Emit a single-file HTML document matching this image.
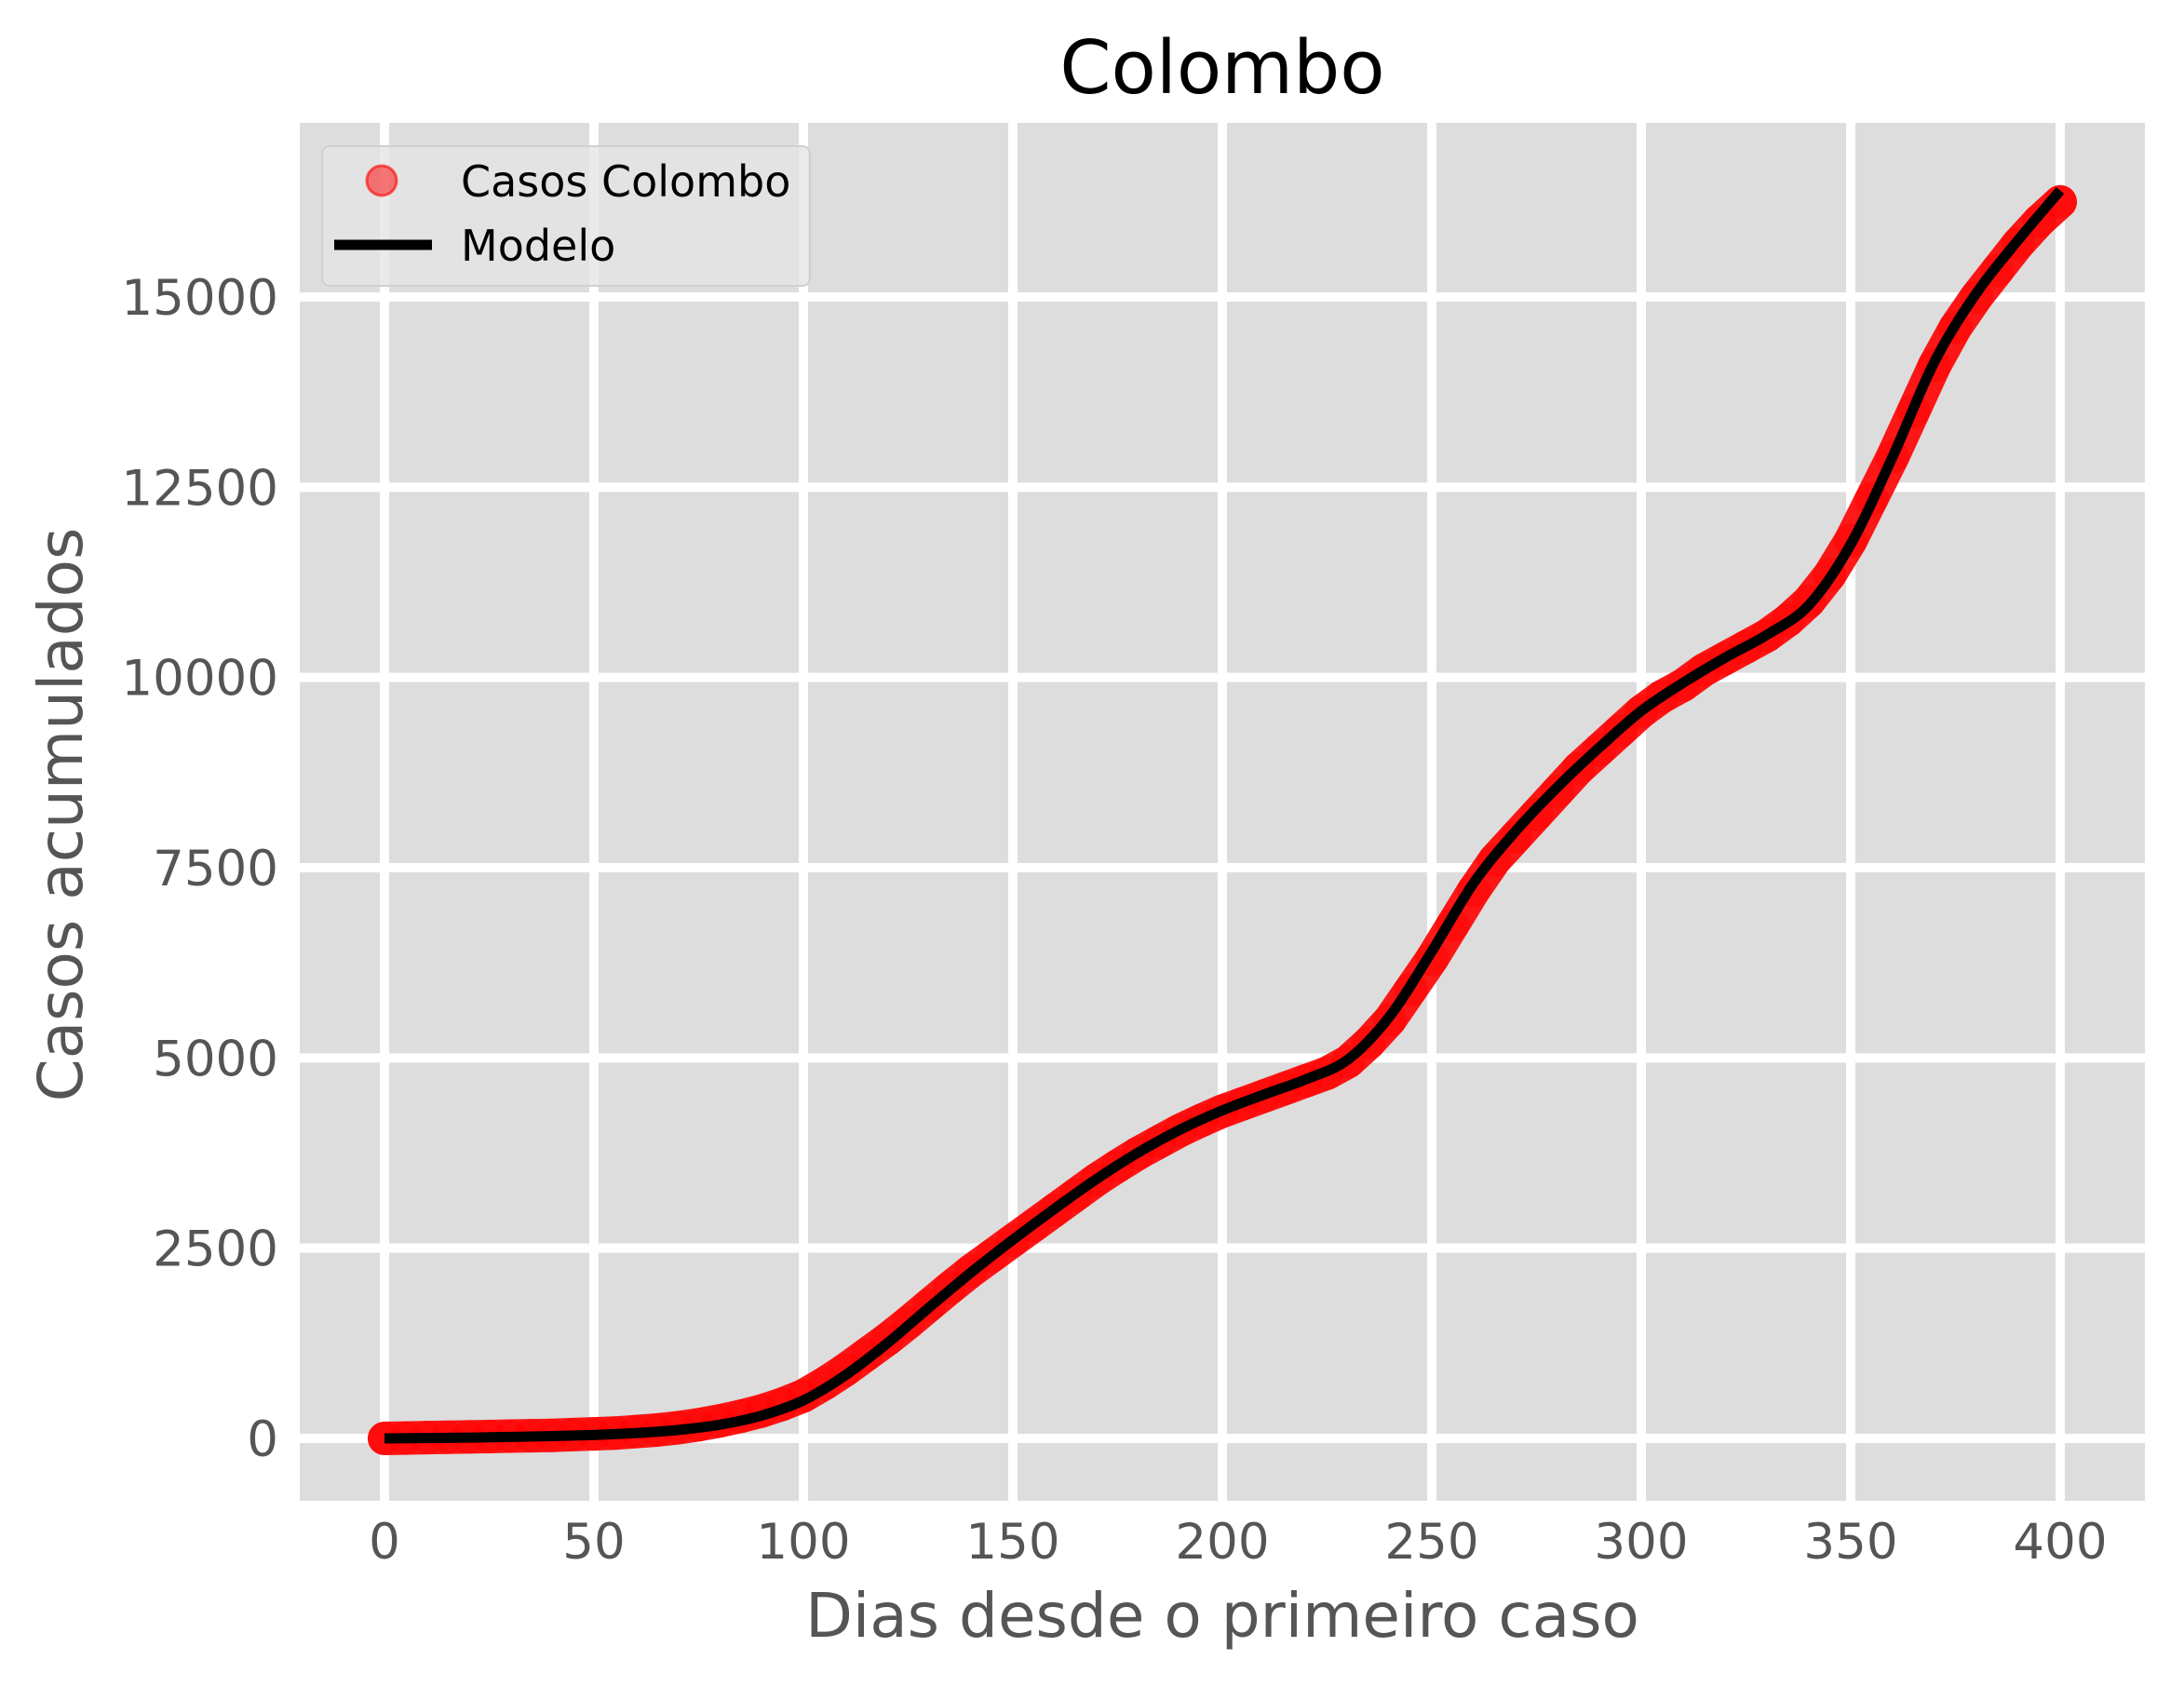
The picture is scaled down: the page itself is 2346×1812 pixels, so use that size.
<!DOCTYPE html>
<html><head><meta charset="utf-8"><style>
html,body{margin:0;padding:0;background:#fff;}
svg{display:block;font-family:"DejaVu Sans","Liberation Sans",sans-serif;}
</style></head><body>
<svg id="chart" width="2346" height="1812" viewBox="0 0 2346 1812" xmlns="http://www.w3.org/2000/svg">
<rect x="322" y="132" width="1982" height="1480" fill="#dddddd"/>
<g id="grid"></g>
<g id="series"></g>
<g id="ticks"></g>
<text x="1313" y="100" font-size="79" text-anchor="middle" fill="#000">Colombo</text>
<text x="1313" y="1758" font-size="66" text-anchor="middle" fill="#555">Dias desde o primeiro caso</text>
<text x="0" y="0" font-size="66" text-anchor="middle" fill="#555" transform="translate(88,875) rotate(-90)">Casos acumulados</text>
<g>
<rect x="346" y="157" width="524" height="150" rx="8" fill="#e5e5e5" fill-opacity="0.8" stroke="#d0d0d0" stroke-width="2"/>
<circle cx="410" cy="194" r="16" fill="#ff0000" fill-opacity="0.5" stroke="#ff0000" stroke-opacity="0.6" stroke-width="3"/>
<text x="495" y="211" font-size="46" fill="#000">Casos Colombo</text>
<line x1="359" y1="263" x2="464" y2="263" stroke="#000" stroke-width="11"/>
<text x="495" y="280" font-size="46" fill="#000">Modelo</text>
</g>
</svg>
<script>
const obsDays = [0,5,10,15,20,25,30,35,40,45,50,55,60,65,70,75,80,85,90,95,100,105,110,115,120,125,130,135,140,145,150,155,160,165,170,175,180,185,190,195,200,205,210,215,220,225,230,235,240,245,250,255,260,265,270,275,280,285,290,295,300,305,310,315,320,325,330,335,340,345,350,355,360,365,370,375,380,385,390,395,400];
const obsCases = [0,5,10,15,20,25,30,35,40,50,60,70,90,110,140,180,230,290,360,450,560,720,900,1100,1300,1520,1750,1980,2200,2400,2600,2800,3000,3200,3400,3580,3750,3900,4050,4180,4300,4400,4500,4600,4700,4800,4950,5200,5500,5900,6300,6750,7200,7600,7900,8200,8500,8800,9050,9300,9550,9750,9900,10100,10250,10400,10550,10750,11000,11350,11800,12350,12900,13500,14100,14600,15000,15350,15700,16000,16250];
const modelDays = [0,10,20,30,40,50,60,70,80,90,100,110,120,130,140,150,160,170,180,190,200,210,220,230,240,250,260,270,280,290,300,310,320,330,340,350,360,370,380,390,400];
const modelCases = [0,5,10,20,30,45,70,110,180,300,500,830,1250,1720,2180,2610,3020,3410,3760,4060,4310,4520,4720,4980,5550,6400,7300,7980,8560,9080,9560,9930,10260,10560,10950,11750,12900,14150,15050,15750,16400];
const xTicks = [0,50,100,150,200,250,300,350,400];
const yTicks = [0,2500,5000,7500,10000,12500,15000];

const X0=413, XS=4.5, Y0=1545, YS=(1545-319)/15000;
const xs = d => X0 + d*XS;
const ys = v => Y0 - v*YS;
const NS="http://www.w3.org/2000/svg";
const grid=document.getElementById('grid'), ticks=document.getElementById('ticks'), series=document.getElementById('series');

xTicks.forEach(t=>{
  const l=document.createElementNS(NS,'line');
  l.setAttribute('x1',xs(t));l.setAttribute('x2',xs(t));l.setAttribute('y1',132);l.setAttribute('y2',1612);
  l.setAttribute('stroke','#fff');l.setAttribute('stroke-width','10');
  
  
  grid.appendChild(l);
  const tx=document.createElementNS(NS,'text');
  tx.setAttribute('x',xs(t));tx.setAttribute('y',1674);tx.setAttribute('font-size','53');
  tx.setAttribute('text-anchor','middle');tx.setAttribute('fill','#555');tx.textContent=t;
  
  
  ticks.appendChild(tx);
});
yTicks.forEach(t=>{
  const l=document.createElementNS(NS,'line');
  l.setAttribute('x1',322);l.setAttribute('x2',2304);l.setAttribute('y1',ys(t));l.setAttribute('y2',ys(t));
  l.setAttribute('stroke','#fff');l.setAttribute('stroke-width','10');
  
  
  grid.appendChild(l);
  const tx=document.createElementNS(NS,'text');
  tx.setAttribute('x',299);tx.setAttribute('y',ys(t)+19);tx.setAttribute('font-size','53');
  tx.setAttribute('text-anchor','end');tx.setAttribute('fill','#555');tx.textContent=t;
  
  
  ticks.appendChild(tx);
});

const band=document.createElementNS(NS,'polyline');
band.setAttribute('points',obsDays.map((d,i)=>xs(d)+','+ys(obsCases[i])).join(' '));
band.setAttribute('fill','none');band.setAttribute('stroke','#ff0000');band.setAttribute('stroke-opacity','0.9');
band.setAttribute('stroke-width','36');band.setAttribute('stroke-linecap','round');band.setAttribute('stroke-linejoin','round');


series.appendChild(band);
obsDays.forEach((d,i)=>{
  const c=document.createElementNS(NS,'circle');
  c.setAttribute('cx',xs(d));c.setAttribute('cy',ys(obsCases[i]));c.setAttribute('r','18');
  c.setAttribute('fill','#ff0000');c.setAttribute('fill-opacity','0.5');
  
  
  series.appendChild(c);
});

const pts=modelDays.map((d,i)=>[xs(d),ys(modelCases[i])]);
let dstr='M'+pts[0][0]+','+pts[0][1];
for(let i=0;i<pts.length-1;i++){
  const p0=pts[Math.max(0,i-1)],p1=pts[i],p2=pts[i+1],p3=pts[Math.min(pts.length-1,i+2)];
  const c1=[p1[0]+(p2[0]-p0[0])/6,p1[1]+(p2[1]-p0[1])/6];
  const c2=[p2[0]-(p3[0]-p1[0])/6,p2[1]-(p3[1]-p1[1])/6];
  dstr+=' C'+c1[0]+','+c1[1]+' '+c2[0]+','+c2[1]+' '+p2[0]+','+p2[1];
}
const mp=document.createElementNS(NS,'path');
mp.setAttribute('d',dstr);mp.setAttribute('fill','none');mp.setAttribute('stroke','#000');mp.setAttribute('stroke-width','11');


series.appendChild(mp);
</script>
</body></html>
